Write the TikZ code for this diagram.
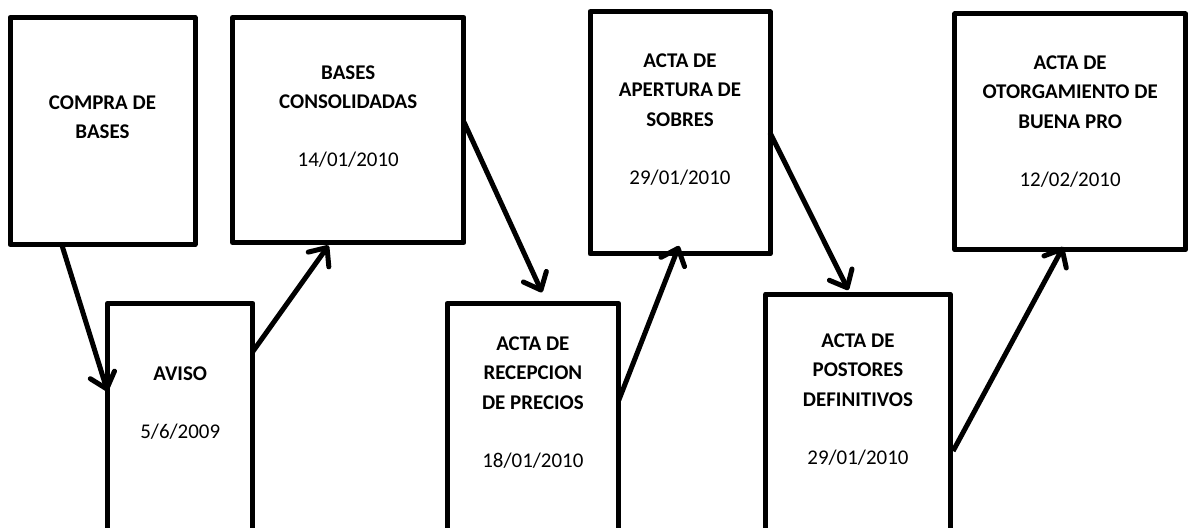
\documentclass[tikz,border=0pt]{standalone}
\usepackage{fontspec}
\setmainfont{Carlito}
\usetikzlibrary{arrows.meta,calc}
\begin{document}
\begin{tikzpicture}[x=0.75pt,y=-0.75pt,
  box/.style={draw=black, line width=3.75pt, rectangle, inner sep=0pt, outer sep=0pt, line join=round, anchor=north west},
  lbl/.style={anchor=north, inner sep=0pt, align=center, font=\fontsize{15.7}{22.1}\selectfont},
  conn/.style={line width=3.75pt, -{Straight Barb[length=11pt,width=19pt,round]}}]
\useasboundingbox (0,0) rectangle (1188,528);
\clip (0,0) rectangle (1188,528);
% boxes
\node[box, minimum width=138.75pt, minimum height=170.25pt] (b1) at (10,17.5) {};
\node[box, minimum width=173.6pt, minimum height=168.75pt] (b2) at (232.5,17.5) {};
\node[box, minimum width=109.1pt, minimum height=195pt] (b3) at (107.5,303.3) {};
\node[box, minimum width=128.8pt, minimum height=195pt] (b4) at (447,303.3) {};
\node[box, minimum width=135pt, minimum height=181.7pt] (b5) at (590,11.7) {};
\node[box, minimum width=138.2pt, minimum height=202.5pt] (b6) at (765.8,294) {};
\node[box, minimum width=173pt, minimum height=176.9pt] (b7) at (954.8,14) {};
% texts
\node[lbl] (t1) at ($(b1.north)+(0,77.8)$) {\textbf{COMPRA DE}\\\textbf{BASES}};
\node[lbl] (t2) at ($(b2.north)+(0,47.8)$) {\textbf{BASES}\\\textbf{CONSOLIDADAS}\\[21.4pt]14/01/2010};
\node[lbl] (t3) at ($(b3.north)+(0,63)$) {\textbf{AVISO}\\[21.4pt]5/6/2009};
\node[lbl] (t4) at ($(b4.north)+(0,33)$) {\textbf{ACTA DE}\\\textbf{RECEPCION}\\\textbf{DE PRECIOS}\\[21.4pt]18/01/2010};
\node[lbl] (t5) at ($(b5.north)+(0,41.6)$) {\textbf{ACTA DE}\\\textbf{APERTURA DE}\\\textbf{SOBRES}\\[21.4pt]29/01/2010};
\node[lbl] (t6) at ($(b6.north)+(0,39.3)$) {\textbf{ACTA DE}\\\textbf{POSTORES}\\\textbf{DEFINITIVOS}\\[21.4pt]29/01/2010};
\node[lbl] (t7) at ($(b7.north)+(0,41.3)$) {\textbf{ACTA DE}\\\textbf{OTORGAMIENTO DE}\\\textbf{BUENA PRO}\\[21.4pt]12/02/2010};
% connectors
\draw[conn] ($(b1.south west)+(51.7,0)$) -- ($(b3.north west)+(0,88)$);
\draw[conn] ($(b3.north east)+(0,48)$) -- ($(b2.south west)+(96,3)$);
\draw[conn] ($(b2.north east)+(0,104.5)$) -- ($(b4.north west)+(95,-11)$);
\draw[conn] ($(b4.north east)+(0,97)$) -- ($(b5.south west)+(89,-8)$);
\draw[conn] ($(b5.north east)+(0,121)$) -- ($(b6.north west)+(82.5,-4)$);
\draw[conn] ($(b6.north east)+(3,157)$) -- ($(b7.south west)+(108.5,-3)$);
\end{tikzpicture}
\end{document}
